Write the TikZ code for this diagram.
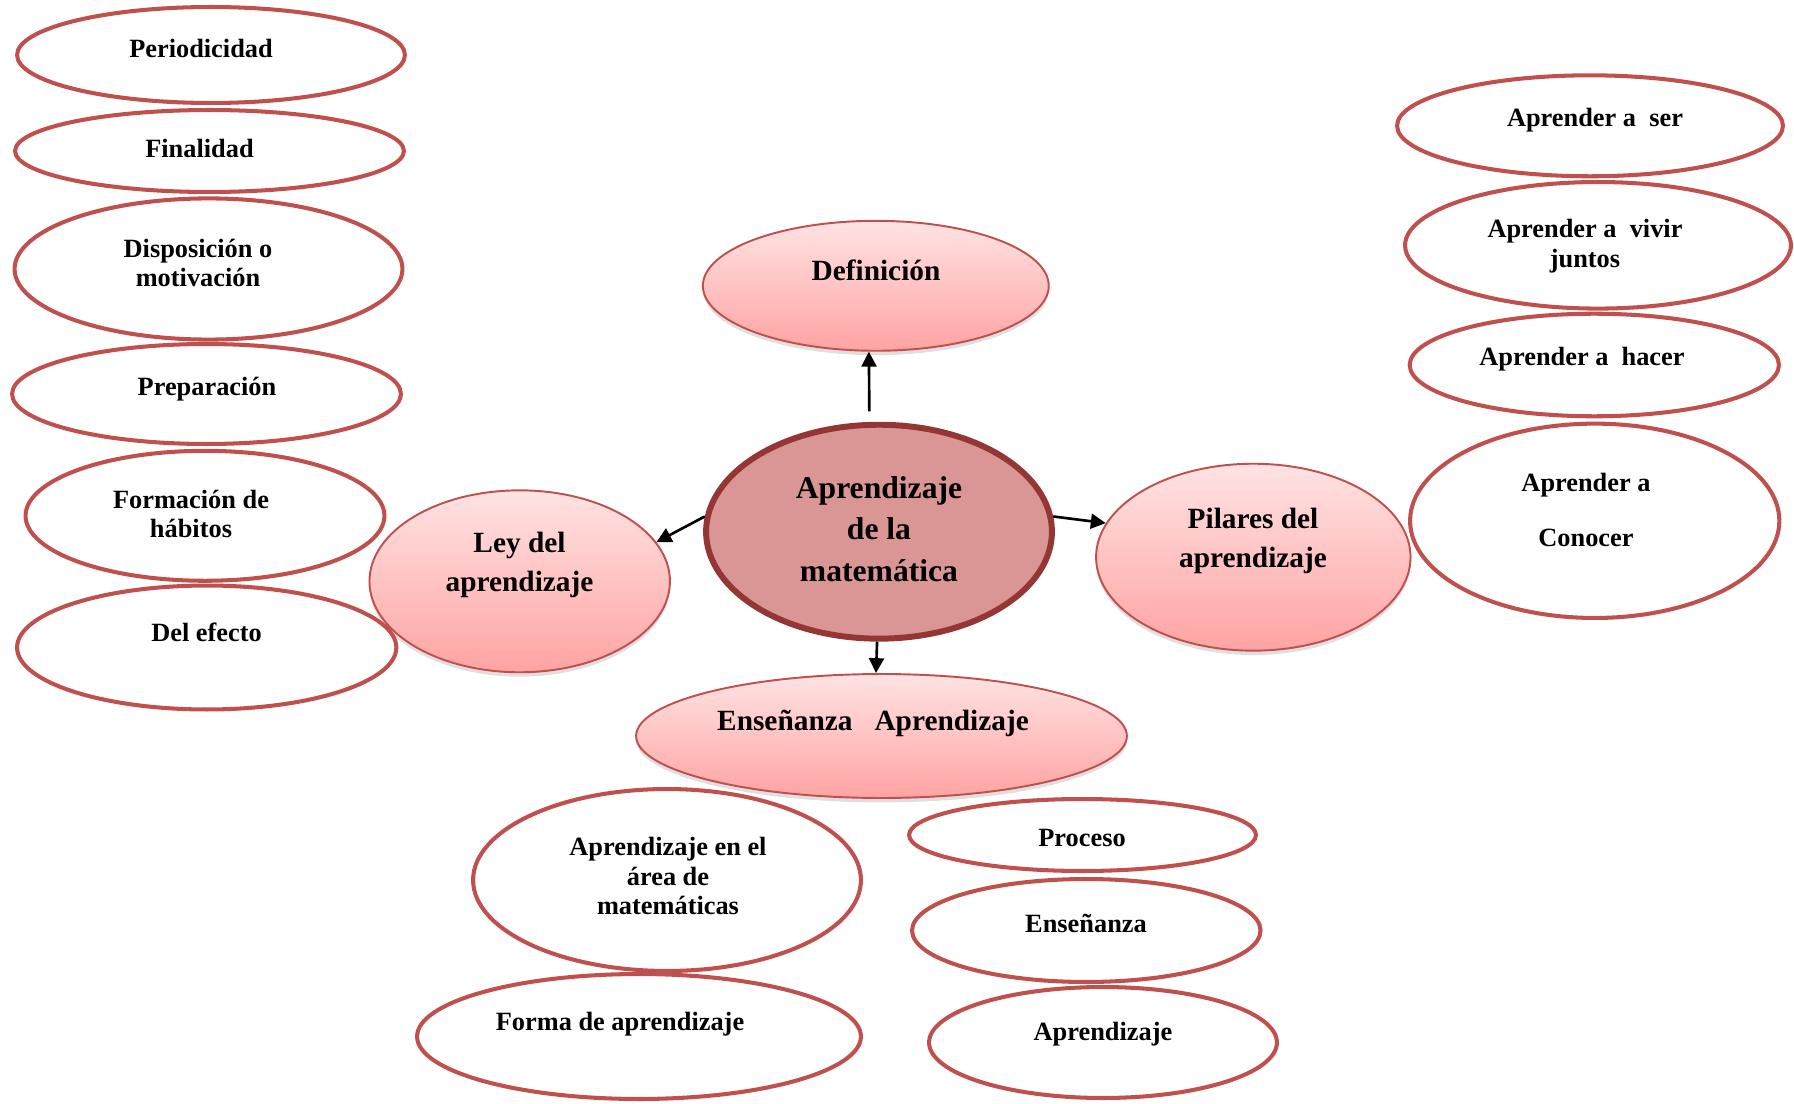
\documentclass[tikz,border=0pt]{standalone}
\usepackage{fontspec}
\setmainfont{Liberation Serif}
\usetikzlibrary{shapes.geometric}
\usetikzlibrary{arrows.meta}
\usetikzlibrary{shadows}
\definecolor{leafred}{HTML}{C0504D}
\definecolor{coreline}{HTML}{943634}
\definecolor{corefill}{HTML}{D99694}
\definecolor{pinktop}{HTML}{FFE3E3}
\definecolor{pinkbot}{HTML}{FFA3A3}

\tikzset{
  sz/.style 2 args={minimum width=#1*0.04cm, minimum height=#2*0.04cm},
  leaf/.style={ellipse, draw=leafred, line width=2.3pt, inner sep=0pt},
  pinky/.style={ellipse, draw=leafred, line width=1.1pt, inner sep=0pt,
    top color=pinktop, bottom color=pinkbot,
    drop shadow={opacity=0.25, shadow xshift=0pt, shadow yshift=-2.5pt}},
  core/.style={ellipse, draw=coreline, line width=3.4pt, fill=corefill, inner sep=0pt},
  lbl/.style={align=center, inner sep=0pt, font=\bfseries\fontsize{15}{17}\selectfont},
  lblbig/.style={align=center, inner sep=0pt, font=\bfseries\fontsize{16.7}{22}\selectfont},
  lblcore/.style={align=center, inner sep=0pt, font=\bfseries\fontsize{18}{23.6}\selectfont},
  arr/.style={line width=1.5pt, -{Triangle[length=8.5pt, width=8.5pt]}}
}

\begin{document}
\begin{tikzpicture}[x=0.02cm, y=-0.02cm]
\useasboundingbox (0,0) rectangle (1794,1104);

% centre and the four branches
\node[pinky, sz={173}{65}] (def) at (875.8,285.8) {};
\node[pinky, sz={150.3}{91}] (ley) at (519.7,581.3) {};
\node[pinky, sz={157.3}{93.5}] (pil) at (1253.3,557.2) {};
\node[pinky, sz={245.5}{62}] (ens) at (881.5,736) {};
\node[core, sz={173}{107}] (cen) at (879,531.7) {};

\node[lblbig] (def-t) at (876,270) {Definición};
\node[lblbig] (ley-t) at (519.5,565) {Ley del\\aprendizaje};
\node[lblbig] (pil-t) at (1253,541) {Pilares del\\aprendizaje};
\node[lblbig] (ens-t) at (873,723) {Enseñanza\ \ \ Aprendizaje};
\node[lblcore] (cen-t) at (879,529) {Aprendizaje\\de la\\matemática};

\draw[arr, shorten <=6pt] (cen.95) -- (def.264);
\draw[arr] (cen.175) -- (ley.16);
\draw[arr] (cen.5) -- (pil.167);
\draw[arr] (cen.269) -- (ens.95);

% left column
\node[leaf, sz={194}{48}] (per) at (211,55) {};
\node[leaf, sz={194.5}{41}] (fin) at (209.5,151) {};
\node[leaf, sz={194}{70.6}] (dis) at (208.5,269) {};
\node[leaf, sz={194.5}{50}] (pre) at (206.5,394) {};
\node[leaf, sz={179.5}{65}] (hab) at (205,515.8) {};
\node[leaf, sz={189.7}{62}] (efe) at (206.7,647.5) {};
\node[lbl] (per-t) at (201,48) {Periodicidad};
\node[lbl] (fin-t) at (199.5,148) {Finalidad};
\node[lbl] (dis-t) at (198,263) {Disposición o\\motivación};
\node[lbl] (pre-t) at (207,389) {Preparación};
\node[lbl] (hab-t) at (191,514) {Formación de\\hábitos};
\node[lbl] (efe-t) at (206.5,632) {Del efecto};

% right column
\node[leaf, sz={193}{50.5}] (ser) at (1590,125.8) {};
\node[leaf, sz={193}{63.3}] (viv) at (1598,245.3) {};
\node[leaf, sz={184.7}{51.3}] (hac) at (1594.3,365) {};
\node[leaf, sz={184.7}{97.2}] (con) at (1594.7,520.8) {};
\node[lbl] (ser-t) at (1595,120) {Aprender a\ \ ser};
\node[lbl] (viv-t) at (1585,246) {Aprender a\ \ vivir\\juntos};
\node[lbl] (hac-t) at (1582,359) {Aprender a\ \ hacer};
\node[lbl] (con-t) at (1586,510) {Aprender a\\[14.8pt]Conocer};

% bottom
\node[leaf, sz={194}{91}] (are) at (667,880) {};
\node[leaf, sz={222}{62.5}] (fma) at (639,1036.5) {};
\node[leaf, sz={173.5}{36}] (pro) at (1082.5,835) {};
\node[leaf, sz={174.3}{51.5}] (ena) at (1086.3,930.5) {};
\node[leaf, sz={174}{55.5}] (apr) at (1103,1042.5) {};
\node[lbl] (are-t) at (668,876) {Aprendizaje en el\\área de\\matemáticas};
\node[lbl] (fma-t) at (620,1024) {Forma de aprendizaje};
\node[lbl] (pro-t) at (1082,838) {Proceso};
\node[lbl] (ena-t) at (1086,923) {Enseñanza};
\node[lbl] (apr-t) at (1103,1034) {Aprendizaje};
\end{tikzpicture}
\end{document}
